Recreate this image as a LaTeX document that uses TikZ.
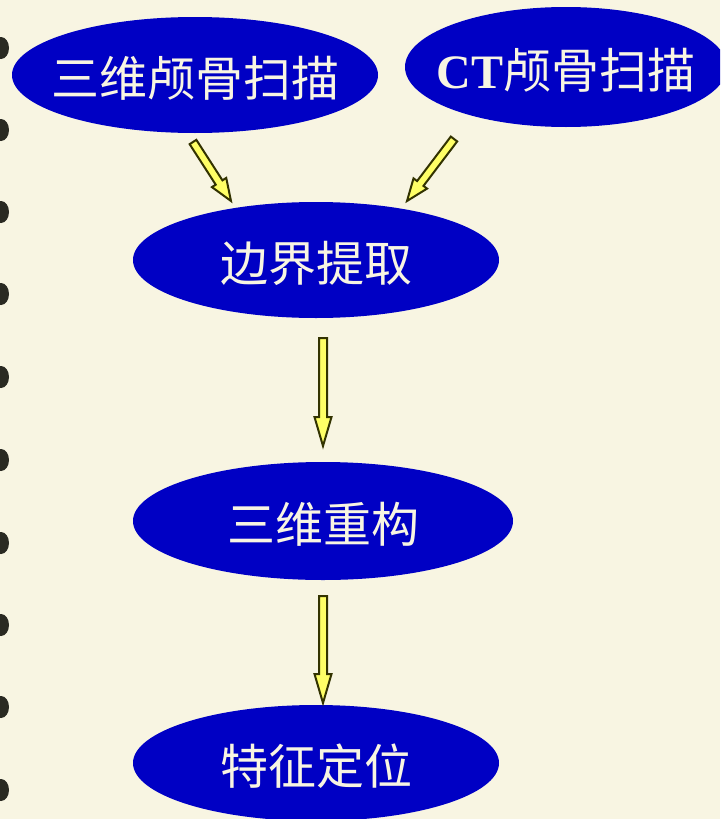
\documentclass[tikz,border=0pt]{standalone}
\usepackage{fontspec}
\setmainfont{Liberation Serif}
\newfontfamily\cjk{Noto Sans CJK SC}
\usetikzlibrary{calc,shapes.geometric}
\definecolor{bg}{HTML}{F8F5E2}
\definecolor{ellblue}{HTML}{0000C4}
\definecolor{arrfill}{HTML}{FFFF66}
\definecolor{arrline}{HTML}{333300}
\definecolor{ring}{HTML}{2A2A22}
\newcommand\blockarrow[4]{% from, to, head length, head half width
  \filldraw[arrowbody]
    ($(#1)!4pt!90:(#2)$) --
    ($($(#2)!#3!(#1)$)!4pt!90:(#2)$) --
    ($($(#2)!#3!(#1)$)!#4!90:(#2)$) --
    (#2) --
    ($($(#2)!#3!(#1)$)!#4!-90:(#2)$) --
    ($($(#2)!#3!(#1)$)!4pt!-90:(#2)$) --
    ($(#1)!4pt!-90:(#2)$) -- cycle;}
\begin{document}
\begin{tikzpicture}[x=1pt,y=-1pt,
  stage/.style={ellipse, fill=ellblue, inner sep=0pt, draw=none},
  stagetext/.style={text=bg, font=\cjk\fontsize{48}{52}\selectfont, inner sep=0pt, yshift=-3pt},
  arrowbody/.style={fill=arrfill, draw=arrline, line width=2pt, line join=miter},
  ringblob/.style={fill=ring, draw=none}]
\fill[bg] (0,0) rectangle (720,819);
\useasboundingbox (0,0) rectangle (720,819);
\clip (0,0) rectangle (720,819);
% binding rings
\foreach \yy in {48,130,212,294,377,460,543,625,707,790}
  \fill[ringblob] (1,\yy) ellipse [x radius=8pt, y radius=11pt];
% nodes
\node[stage, minimum width=366pt, minimum height=116pt,
  label={[stagetext]center:三维颅骨扫描}] (scan3d) at (195,75) {};
\node[stage, minimum width=322pt, minimum height=120pt,
  label={[stagetext]center:{\fontspec{Liberation Serif}\bfseries CT}颅骨扫描}] (ctscan) at (566,67) {};
\node[stage, minimum width=366pt, minimum height=116pt,
  label={[stagetext]center:边界提取}] (edge) at (316,260) {};
\node[stage, minimum width=380pt, minimum height=118pt,
  label={[stagetext]center:三维重构}] (recon) at (323,521) {};
\node[stage, minimum width=366pt, minimum height=116pt,
  label={[stagetext]center:特征定位}] (feat) at (316,763) {};
% arrow end points
\coordinate (a1s) at (193,142);
\coordinate (a1e) at (231,201);
\coordinate (a2s) at (454,139);
\coordinate (a2e) at (407,201);
\coordinate (a3s) at (323,338);
\coordinate (a3e) at (323,446);
\coordinate (a4s) at (323,596);
\coordinate (a4e) at (323,703);
\blockarrow{a1s}{a1e}{22pt}{8.5pt}
\blockarrow{a2s}{a2e}{22pt}{8.5pt}
\blockarrow{a3s}{a3e}{29pt}{8.5pt}
\blockarrow{a4s}{a4e}{29pt}{8.5pt}
\end{tikzpicture}
\end{document}
